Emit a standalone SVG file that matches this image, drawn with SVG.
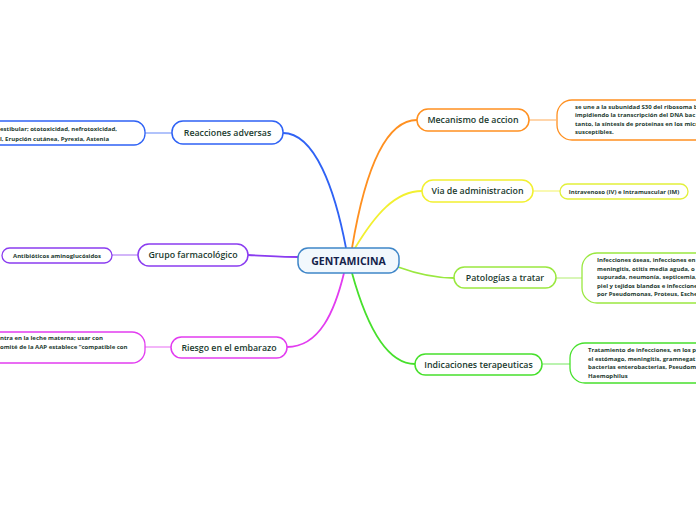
<svg xmlns="http://www.w3.org/2000/svg" width="696" height="520" viewBox="0 0 696 520">
<style>
.bg{fill:#ffffff}
.node rect{fill:#ffffff;stroke-width:1.5}
.leaf rect{fill:#ffffff;stroke-width:1.3}
.lbl{font-family:"Open Sans","Noto Sans","Liberation Sans",sans-serif;font-weight:600;font-size:8.8px;fill:#1a3a2e;text-anchor:middle}
.ctr{font-family:"Open Sans","Noto Sans","Liberation Sans",sans-serif;font-weight:700;font-size:10.5px;fill:#14224a;text-anchor:middle}
.lt{font-family:"Open Sans","Noto Sans","Liberation Sans",sans-serif;font-weight:700;font-size:6px;fill:#1d3b30}
.conn path{fill:none;stroke-width:1.8}
.conn .lf{stroke-width:1.5;opacity:0.5}
</style>
<rect class="bg" x="0" y="0" width="696" height="520"/>
<g id="connectors" class="conn">
<path d="M346,248 C335,190 315,133 283,133" stroke="#2f62f5"/>
<path d="M352,248 C365,170 385,120 417,120" stroke="#ff9020"/>
<path d="M355,248 C375,215 395,191 422,191" stroke="#f2f030"/>
<path d="M398,267 C420,275 435,278 454,278" stroke="#9ae840"/>
<path d="M248,255 C270,256 285,257 298,257" stroke="#8a3cf0"/>
<path d="M344,273 C335,310 320,347 287,347" stroke="#e23cf0"/>
<path d="M352,273 C365,320 385,364 415,364" stroke="#47e02c"/>
<path class="lf" d="M172,133 L145,133" stroke="#2f62f5"/>
<path class="lf" d="M138,255 L112,255" stroke="#8a3cf0"/>
<path class="lf" d="M171,347 L145,347" stroke="#e23cf0"/>
<path class="lf" d="M529,120 L556,120" stroke="#ff9020"/>
<path class="lf" d="M533,191 L560,191" stroke="#f2f030"/>
<path class="lf" d="M556,278 L582,278" stroke="#9ae840"/>
<path class="lf" d="M542,364 L570,364" stroke="#47e02c"/>
</g>
<g id="center">
<rect x="298" y="248" width="101" height="25" rx="10" fill="#f2f8fd" stroke="#3f86c8" stroke-width="1.5"/>
<text class="ctr" x="348.5" y="264.5">GENTAMICINA</text>
</g>
<g id="reacciones" class="node">
<rect x="172" y="121" width="111" height="23" rx="11" stroke="#2f62f5"/>
<text class="lbl" x="227.5" y="135.5">Reacciones adversas</text>
</g>
<g id="reacciones-leaf" class="leaf">
<rect x="-20" y="121" width="165" height="24" rx="11" stroke="#2f62f5"/>
<text class="lt" x="0" y="131">estibular; ototoxicidad, nefrotoxicidad,</text>
<text class="lt" x="0" y="140.5">l, Erupción cutánea, Pyrexia, Astenia</text>
</g>
<g id="grupo" class="node">
<rect x="138" y="244" width="110" height="22" rx="11" stroke="#8a3cf0"/>
<text class="lbl" x="193" y="258">Grupo farmacológico</text>
</g>
<g id="grupo-leaf" class="leaf">
<rect x="2" y="248" width="110" height="15" rx="7.5" stroke="#8a3cf0"/>
<text class="lt" x="57" y="257.5" text-anchor="middle">Antibióticos aminoglucósidos</text>
</g>
<g id="riesgo" class="node">
<rect x="171" y="337" width="116" height="21" rx="10.5" stroke="#e23cf0"/>
<text class="lbl" x="229" y="350.5">Riesgo en el embarazo</text>
</g>
<g id="riesgo-leaf" class="leaf">
<rect x="-20" y="332" width="165" height="31" rx="13" stroke="#e23cf0"/>
<text class="lt" x="0" y="340">ntra en la leche materna; usar con</text>
<text class="lt" x="0" y="349">omité de la AAP establece “compatible con</text>
</g>
<g id="mecanismo" class="node">
<rect x="417" y="109" width="112" height="22" rx="11" stroke="#ff9020"/>
<text class="lbl" x="473" y="123">Mecanismo de accion</text>
</g>
<g id="mecanismo-leaf" class="leaf">
<rect x="557" y="100" width="160" height="40" rx="15" stroke="#ff9020"/>
<text class="lt" x="575" y="109">se une a la subunidad S30 del ribosoma b</text>
<text class="lt" x="575" y="117">impidiendo la transcripción del DNA bac</text>
<text class="lt" x="575" y="125.5">tanto, la síntesis de proteínas en los micr</text>
<text class="lt" x="575" y="134">susceptibles.</text>
</g>
<g id="via" class="node">
<rect x="422" y="180" width="111" height="22" rx="11" stroke="#f2f030"/>
<text class="lbl" x="477.5" y="194">Via de administracion</text>
</g>
<g id="via-leaf" class="leaf">
<rect x="560" y="184" width="128" height="15" rx="7.5" stroke="#e2f03a"/>
<text class="lt" x="624" y="193.5" text-anchor="middle">Intravenoso (IV) e Intramuscular (IM)</text>
</g>
<g id="patologias" class="node">
<rect x="454" y="267" width="102" height="21" rx="10.5" stroke="#9ae840"/>
<text class="lbl" x="505" y="280.5">Patologías a tratar</text>
</g>
<g id="patologias-leaf" class="leaf">
<rect x="582" y="253" width="140" height="50" rx="15" stroke="#9ae840"/>
<text class="lt" x="597" y="262">Infecciones óseas, infecciones en</text>
<text class="lt" x="597" y="270.5">meningitis, otitis media aguda, o</text>
<text class="lt" x="597" y="279">supurada, neumonía, septicemia,</text>
<text class="lt" x="597" y="287.5">piel y tejidos blandos e infeccione</text>
<text class="lt" x="597" y="296">por Pseudomonas, Proteus, Esche</text>
</g>
<g id="indicaciones" class="node">
<rect x="415" y="354" width="127" height="21" rx="10.5" stroke="#47e02c"/>
<text class="lbl" x="478.5" y="367.5">Indicaciones terapeuticas</text>
</g>
<g id="indicaciones-leaf" class="leaf">
<rect x="570" y="343" width="150" height="40" rx="15" stroke="#47e02c"/>
<text class="lt" x="588" y="352">Tratamiento de infecciones, en los po</text>
<text class="lt" x="588" y="360.5">el estómago, meningitis, gramnegat</text>
<text class="lt" x="588" y="369">bacterias enterobacterias, Pseudom</text>
<text class="lt" x="588" y="377.5">Haemophilus</text>
</g>
</svg>
